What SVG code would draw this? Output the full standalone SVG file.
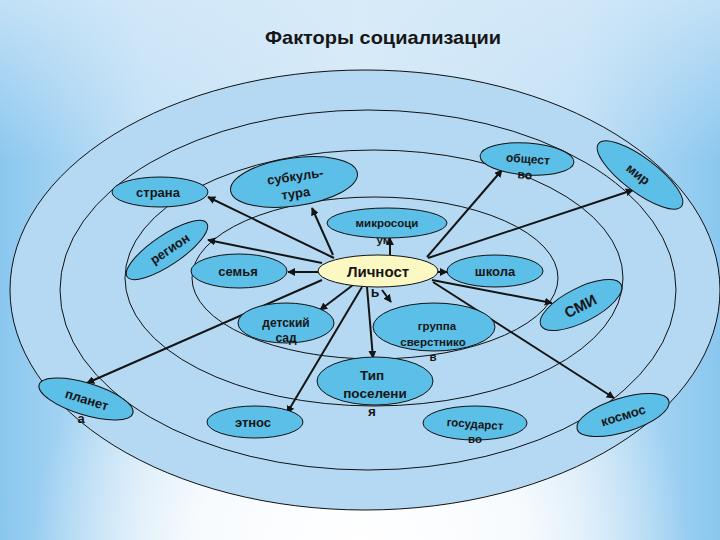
<svg xmlns="http://www.w3.org/2000/svg" width="720" height="540" viewBox="0 0 720 540">
<defs>
<linearGradient id="bgh" x1="0" y1="0" x2="1" y2="0">
<stop offset="0" stop-color="#8ac7ef"/>
<stop offset="0.2" stop-color="#c2e0f6"/>
<stop offset="0.5" stop-color="#d6eaf8"/>
<stop offset="0.8" stop-color="#c2e0f6"/>
<stop offset="1" stop-color="#8ac7ef"/>
</linearGradient>
<linearGradient id="bgt" x1="0" y1="0" x2="0" y2="1">
<stop offset="0" stop-color="#d8ebf9" stop-opacity="0.7"/>
<stop offset="0.3" stop-color="#d8ebf9" stop-opacity="0"/>
</linearGradient>
<radialGradient id="bgw" cx="360" cy="560" r="330" gradientUnits="userSpaceOnUse">
<stop offset="0" stop-color="#ffffff"/>
<stop offset="0.5" stop-color="#ffffff" stop-opacity="0.85"/>
<stop offset="1" stop-color="#ffffff" stop-opacity="0"/>
</radialGradient>
<marker id="ah" viewBox="0 0 10 10" refX="9" refY="5" markerWidth="4" markerHeight="4" orient="auto" markerUnits="strokeWidth">
<path d="M0,0 L10,5 L0,10 z" fill="#141414"/>
</marker>
<style>
.ring{fill:#b5d9f3;stroke:#111;stroke-width:1}
.node{fill:#5cbfe8;stroke:#111;stroke-width:1}
.me{fill:#fcf8c4;stroke:#111;stroke-width:1}
.t{font-family:"Liberation Sans",Arial,sans-serif;font-weight:bold;fill:#161616;text-anchor:middle}
.c line{stroke:#141414;stroke-width:2;marker-end:url(#ah)}
</style>
</defs>
<rect width="720" height="540" fill="url(#bgh)"/>
<rect width="720" height="540" fill="url(#bgt)"/>
<rect width="720" height="540" fill="url(#bgw)"/>
<text class="t" x="383" y="44" font-size="19" textLength="236" lengthAdjust="spacingAndGlyphs">Факторы социализации</text>
<g id="rings">
<ellipse class="ring" cx="365" cy="290" rx="355" ry="220"/>
<ellipse class="ring" cx="368" cy="290" rx="308" ry="180"/>
<ellipse class="ring" cx="374" cy="278" rx="249" ry="128"/>
<ellipse class="ring" cx="375" cy="278" rx="183" ry="81"/>
</g>
<g id="connectors" class="c">
<line x1="334" y1="258" x2="208" y2="197"/>
<line x1="322" y1="263" x2="208" y2="240"/>
<line x1="333" y1="255" x2="312" y2="208"/>
<line x1="318" y1="272" x2="288" y2="272"/>
<line x1="390" y1="255" x2="390" y2="238"/>
<line x1="427" y1="257" x2="502" y2="170"/>
<line x1="428" y1="258" x2="633" y2="190"/>
<line x1="438" y1="272" x2="447" y2="272"/>
<line x1="432" y1="280" x2="552" y2="303"/>
<line x1="433" y1="282" x2="614" y2="398"/>
<line x1="382" y1="290" x2="391" y2="302"/>
<line x1="367" y1="287" x2="373" y2="358"/>
<line x1="362" y1="287" x2="287" y2="413"/>
<line x1="353" y1="285" x2="320" y2="310"/>
<line x1="322" y1="280" x2="87" y2="383"/>
</g>
<g id="strana"><ellipse class="node" cx="160" cy="192" rx="48" ry="15"/><text class="t" x="158" y="197" font-size="13">страна</text></g>
<g id="subkultura" transform="rotate(-8 294 182)"><ellipse class="node" cx="294" cy="182" rx="64" ry="24"/><text class="t" x="296" y="181" font-size="13">субкуль-</text><text class="t" x="294" y="198" font-size="13">тура</text></g>
<g id="region" transform="rotate(-34 167 250)"><ellipse class="node" cx="167" cy="250" rx="48" ry="15"/><text class="t" x="170" y="255" font-size="13">регион</text></g>
<g id="semya"><ellipse class="node" cx="239" cy="271" rx="48" ry="17"/><text class="t" x="238" y="276" font-size="13">семья</text></g>
<g id="mikrosocium"><ellipse class="node" cx="387" cy="223" rx="60" ry="15"/><text class="t" x="387" y="227" font-size="11.5">микросоци</text><text class="t" x="384" y="244" font-size="11.5">ум</text></g>
<g id="obshchestvo" transform="rotate(4 527 159)"><ellipse class="node" cx="527" cy="159" rx="47" ry="16"/><text class="t" x="528" y="163" font-size="12">общест</text><text class="t" x="526" y="179" font-size="12">во</text></g>
<g id="mir" transform="rotate(37 640 175)"><ellipse class="node" cx="640" cy="175" rx="52" ry="17"/><text class="t" x="638" y="180" font-size="13">мир</text></g>
<g id="lichnost"><ellipse class="me" cx="378" cy="271" rx="60" ry="16"/><text class="t" x="378" y="277" font-size="15">Личност</text><text class="t" x="375" y="297" font-size="14">ь</text></g>
<g id="shkola"><ellipse class="node" cx="495" cy="271" rx="48" ry="16"/><text class="t" x="495" y="276" font-size="13">школа</text></g>
<g id="smi" transform="rotate(-27 581 305)"><ellipse class="node" cx="581" cy="305" rx="45" ry="17"/><text class="t" x="580" y="311" font-size="15">СМИ</text></g>
<g id="detsad"><ellipse class="node" cx="286" cy="323" rx="48" ry="20"/><text class="t" x="286" y="327" font-size="12">детский</text><text class="t" x="286" y="342" font-size="12">сад</text></g>
<g id="gruppa"><ellipse class="node" cx="434" cy="327" rx="61" ry="24"/><text class="t" x="437" y="330" font-size="11.5">группа</text><text class="t" x="433" y="346" font-size="11.5">сверстнико</text><text class="t" x="433" y="361" font-size="11.5">в</text></g>
<g id="tip"><ellipse class="node" cx="375" cy="381" rx="58" ry="24"/><text class="t" x="372" y="380" font-size="13.5">Тип</text><text class="t" x="375" y="398" font-size="13.5">поселени</text><text class="t" x="372" y="416" font-size="13.5">я</text></g>
<g id="etnos"><ellipse class="node" cx="255" cy="422" rx="48" ry="16"/><text class="t" x="253" y="427" font-size="13">этнос</text></g>
<g id="gosudarstvo"><ellipse class="node" cx="475" cy="423" rx="52" ry="17"/><text class="t" x="475" y="428" font-size="11.5" transform="rotate(4 475 424)">государст</text><text class="t" x="475" y="443" font-size="11.5">во</text></g>
<g id="kosmos" transform="rotate(-17 623 415)"><ellipse class="node" cx="623" cy="415" rx="48" ry="17"/><text class="t" x="623" y="420" font-size="13">космос</text></g>
<g id="planeta"><g transform="rotate(17 86 399)"><ellipse class="node" cx="86" cy="399" rx="49" ry="16"/><text class="t" x="87" y="404" font-size="13">планет</text></g><text class="t" x="81" y="423" font-size="13">а</text></g>
</svg>
